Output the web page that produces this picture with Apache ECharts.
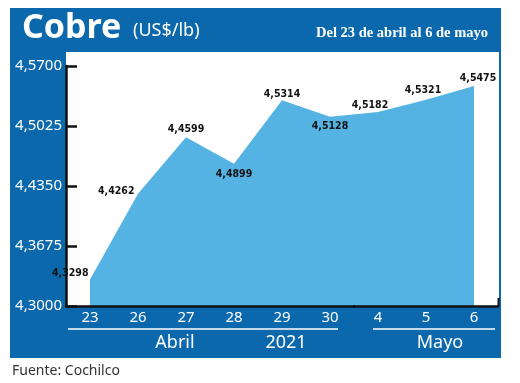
<!DOCTYPE html>
<html>
<head>
<meta charset="utf-8">
<script src="https://cdn.jsdelivr.net/npm/echarts@6/dist/echarts.min.js"></script>
<style>
html,body{margin:0;padding:0;background:#ffffff;}
#chart{width:520px;height:383px;}
</style>
</head>
<body>
<div id="chart"></div>
<script>
// ---- data ----
var categories = ['23', '26', '27', '28', '29', '30', '4', '5', '6'];
var values = [4.3298, 4.4262, 4.4899, 4.4599, 4.5314, 4.5128, 4.5182, 4.5321, 4.5475];
var pointLabels = ['4,3298', '4,4262', '4,4599', '4,4899', '4,5314', '4,5128', '4,5182', '4,5321', '4,5475'];
var yTicks = [4.3000, 4.3675, 4.4350, 4.5025, 4.5700];
var groupLabels = ['Abril', '2021', 'Mayo'];
var titleMain = 'Cobre';
var titleUnit = '(US$/lb)';
var subtitle = 'Del 23 de abril al 6 de mayo';
var source = 'Fuente: Cochilco';

// ---- styling ----
var BLUE = '#0b68ad';
var AREA = '#55b3e3';
var labelPlace = [
  {position: 'left', distance: 1, offset: [0, -6]},
  {position: 'left', distance: 3, offset: [0, -3]},
  {position: 'top', distance: 2, offset: [0, 0]},
  {position: 'bottom', distance: 4, offset: [0, 0]},
  {position: 'top', distance: 0, offset: [0, 0]},
  {position: 'bottom', distance: 3, offset: [0, 0]},
  {position: 'top', distance: 1, offset: [-8, 0]},
  {position: 'top', distance: 3, offset: [-3, 0]},
  {position: 'top', distance: 2, offset: [4, 0]}
];

var seriesData = values.map(function (v, i) {
  var p = labelPlace[i];
  return {
    value: v,
    label: {
      position: p.position,
      distance: p.distance,
      offset: p.offset,
      formatter: pointLabels[i]
    }
  };
});

var chart = echarts.init(document.getElementById('chart'), null, {renderer: 'canvas'});
var option = {
  animation: false,
  backgroundColor: '#ffffff',
  grid: {left: 66, top: 66, width: 432, height: 240},
  xAxis: {
    type: 'category',
    data: categories,
    boundaryGap: true,
    z: 5,
    axisLine: {show: true, lineStyle: {color: '#111', width: 2.5}},
    axisTick: {show: false},
    axisLabel: {color: '#ffffff', fontSize: 15, fontFamily: 'Noto Sans', margin: 4}
  },
  yAxis: {
    type: 'value',
    min: yTicks[0],
    max: yTicks[yTicks.length - 1],
    interval: yTicks[1] - yTicks[0],
    z: 5,
    splitLine: {show: false},
    axisLine: {show: true, lineStyle: {color: '#111', width: 2.5}},
    axisTick: {show: true, inside: true, length: 11, lineStyle: {color: '#111', width: 2.5}},
    axisLabel: {
      color: '#ffffff', fontSize: 15, fontFamily: 'Noto Sans', margin: 4,
      formatter: function (v) { return v.toFixed(4).replace('.', ','); }
    }
  },
  series: [{
    type: 'line',
    data: seriesData,
    z: 2,
    symbol: 'circle',
    symbolSize: 1,
    showSymbol: true,
    itemStyle: {color: 'rgba(0,0,0,0)'},
    smooth: false,
    lineStyle: {width: 0, color: AREA},
    areaStyle: {color: AREA, opacity: 1},
    label: {
      show: true,
      color: '#111',
      fontSize: 10.5,
      fontWeight: 'bold',
      fontFamily: '"Liberation Sans Narrow", "DejaVu Sans Condensed", "Liberation Sans", sans-serif'
    },
    emphasis: {disabled: true}
  }],
  graphic: [
    {type: 'rect', z: -20, silent: true, shape: {x: 10, y: 8, width: 491, height: 350}, style: {fill: BLUE}},
    {type: 'rect', z: -10, silent: true, shape: {x: 66, y: 52, width: 433, height: 254}, style: {fill: '#ffffff'}},
    {type: 'text', z: 10, x: 22, y: 28, style: {text: titleMain, fill: '#ffffff', font: 'bold 34px "Noto Sans"', verticalAlign: 'middle', align: 'left'}},
    {type: 'text', z: 10, x: 133, y: 31, style: {text: titleUnit, fill: '#ffffff', font: '18px "Noto Sans"', verticalAlign: 'middle', align: 'left'}},
    {type: 'text', z: 10, x: 488, y: 33, style: {text: subtitle, fill: '#ffffff', font: 'bold 14.5px "Liberation Serif"', verticalAlign: 'middle', align: 'right'}},
    {type: 'line', z: 10, silent: true, shape: {x1: 68, y1: 329, x2: 338, y2: 329}, style: {stroke: '#ffffff', lineWidth: 1.5}},
    {type: 'line', z: 10, silent: true, shape: {x1: 373, y1: 329, x2: 495, y2: 329}, style: {stroke: '#ffffff', lineWidth: 1.5}},
    {type: 'text', z: 10, x: 175, y: 343, style: {text: groupLabels[0], fill: '#ffffff', font: '18px "Noto Sans"', verticalAlign: 'middle', align: 'center'}},
    {type: 'text', z: 10, x: 286, y: 343, style: {text: groupLabels[1], fill: '#ffffff', font: '18px "Noto Sans"', verticalAlign: 'middle', align: 'center'}},
    {type: 'text', z: 10, x: 440, y: 343, style: {text: groupLabels[2], fill: '#ffffff', font: '18px "Noto Sans"', verticalAlign: 'middle', align: 'center'}},
    {type: 'line', z: 10, silent: true, shape: {x1: 498.5, y1: 298, x2: 498.5, y2: 306}, style: {stroke: '#111', lineWidth: 2}},
    {type: 'line', z: 10, silent: true, shape: {x1: 354, y1: 305, x2: 354, y2: 308}, style: {stroke: '#111', lineWidth: 2}},
    {type: 'text', z: 10, x: 12, y: 371, style: {text: source, fill: '#333333', font: '14px "Noto Sans"', verticalAlign: 'middle', align: 'left'}}
  ]
};
chart.setOption(option);
</script>
</body>
</html>
